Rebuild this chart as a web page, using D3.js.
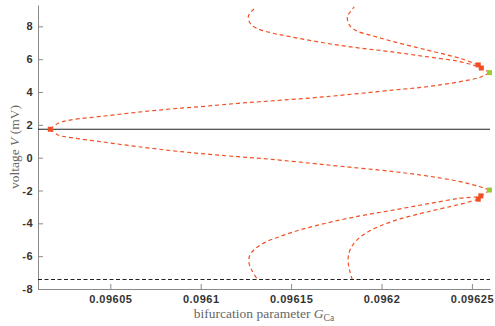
<!DOCTYPE html>
<html>
<head>
<meta charset="utf-8">
<script src="https://cdn.jsdelivr.net/npm/d3@7"></script>
<style>
  body { margin: 0; background: white; }
  .tick text { font-family: "Liberation Sans", Arial, sans-serif; font-weight: bold; font-size: 11px; letter-spacing: 0.5px; fill: #333; }
  .tick line, .domain { stroke: #8a8a8a; }
  .lbl { font-family: "Liberation Serif", "Times New Roman", serif; font-size: 13.5px; fill: #666; }
</style>
</head>
<body>
<div id="chart"></div>
<script>
var margin = { top: 5, right: 5, bottom: 37, left: 38 };
let width = 495 - margin.left - margin.right;
let height = 326 - margin.top - margin.bottom;

// tick labels
let xTicks = [0.09605, 0.0961, 0.09615, 0.0962, 0.09625];
let xTickLabels = ["0.09605", "0.0961", "0.09615", "0.0962", "0.09625"];
let yTicks = [-8, -6, -4, -2, 0, 2, 4, 6, 8];

// equilibria: [G, V]
let stableEq = [[0.09601, 1.73], [0.09626, 1.73]];
let unstableEq = [[0.09601, -7.42], [0.09626, -7.42]];

// periodic orbit branch from the Hopf point, max and min of V
let orbitMax = [
  [0.0960168, 1.73], [0.0960211, 2.10], [0.0960284, 2.30], [0.0960469, 2.54],
  [0.0960653, 2.77], [0.0960837, 2.97], [0.0961022, 3.13], [0.0961206, 3.31],
  [0.0961372, 3.44], [0.0961697, 3.72], [0.0962065, 4.12], [0.0962250, 4.32],
  [0.0962434, 4.63], [0.0962545, 4.90], [0.0962597, 5.18]
];
let orbitMin = [
  [0.0960168, 1.73], [0.0960211, 1.38], [0.0960284, 1.22], [0.0960469, 0.94],
  [0.0960653, 0.67], [0.0960837, 0.43], [0.0961022, 0.23], [0.0961206, 0.06],
  [0.0961372, -0.08], [0.0961697, -0.44], [0.0962065, -0.85], [0.0962250, -1.11],
  [0.0962434, -1.46], [0.0962545, -1.77], [0.0962597, -1.97]
];

// branches after the fold
let branchA = [
  [0.0962535, 5.65], [0.0962434, 6.05], [0.0962250, 6.56], [0.0962065, 7.07],
  [0.0961955, 7.41], [0.0961863, 7.72], [0.0961822, 8.08], [0.0961811, 8.59],
  [0.0961826, 8.87], [0.0961849, 9.18]
];
let branchB = [
  [0.0962597, 5.18], [0.0962552, 5.46], [0.0962434, 5.85], [0.0962250, 6.15],
  [0.0962047, 6.46], [0.0961863, 6.70], [0.0961678, 7.00], [0.0961494, 7.37],
  [0.0961401, 7.58], [0.0961310, 7.88], [0.0961273, 8.19], [0.0961263, 8.59],
  [0.0961282, 8.93], [0.0961310, 9.16]
];
let branchC = [
  [0.0962597, -1.97], [0.0962549, -2.33], [0.0962434, -2.47], [0.0962250, -2.82],
  [0.0962065, -3.19], [0.0961881, -3.55], [0.0961697, -3.98], [0.0961549, -4.40],
  [0.0961439, -4.80], [0.0961356, -5.16], [0.0961300, -5.56], [0.0961270, -5.99],
  [0.0961267, -6.41], [0.0961282, -6.84], [0.0961313, -7.41]
];
let branchD = [
  [0.0962535, -2.53], [0.0962434, -2.84], [0.0962250, -3.31], [0.0962102, -3.73],
  [0.0961992, -4.16], [0.0961914, -4.59], [0.0961859, -5.07], [0.0961828, -5.56],
  [0.0961816, -6.05], [0.0961817, -6.53], [0.0961826, -6.96], [0.0961837, -7.39]
];

// special points
let hopfPts = [[0.0960168, 1.73]];
let pdPts = [[0.0962535, 5.65], [0.0962552, 5.46], [0.0962549, -2.33], [0.0962535, -2.53]];
let foldPts = [[0.0962597, 5.18], [0.0962597, -1.97]];

var svg = d3
  .select("#chart")
  .append("svg")
  .attr("width", width + margin.left + margin.right)
  .attr("height", height + margin.top + margin.bottom)
  .style("background-color", "white");

let g = svg.append("g").attr("transform", "translate(" + margin.left + "," + margin.top + ")");

let x = d3.scaleLinear().domain([0.09601, 0.09626]).range([0, width]);
let y = d3.scaleLinear().domain([-8, 9.3]).range([height, 0]);

// axes
g.append("g")
  .attr("transform", "translate(0," + height + ")")
  .call(d3.axisBottom(x).tickValues(xTicks).tickSizeInner(-5).tickSizeOuter(0).tickPadding(6)
    .tickFormat((d, i) => xTickLabels[i]));

g.append("g")
  .call(d3.axisLeft(y).tickValues(yTicks).tickSizeInner(-5).tickSizeOuter(0).tickPadding(5)
    .tickFormat((d) => String(d)));

let line = d3.line().x((d) => x(d[0])).y((d) => y(d[1]));
let smooth = d3.line().x((d) => x(d[0])).y((d) => y(d[1])).curve(d3.curveCatmullRom.alpha(0.5));

g.append("path").datum(stableEq).attr("d", line)
  .attr("fill", "none").attr("stroke", "#222").attr("stroke-width", 1.2);
g.append("path").datum(unstableEq).attr("d", line)
  .attr("fill", "none").attr("stroke", "#222").attr("stroke-width", 1.1).attr("stroke-dasharray", "4,2.5");

// unstable periodic orbits
[orbitMax, orbitMin, branchA, branchB, branchC, branchD].forEach((b) => {
  g.append("path").datum(b).attr("d", smooth)
    .attr("fill", "none").attr("stroke", "#f25022").attr("stroke-width", 1.2)
    .attr("stroke-dasharray", "4,3");
});

// markers
function squares(pts, color) {
  g.selectAll(null).data(pts).join("rect")
    .attr("x", (d) => x(d[0]) - 2.5)
    .attr("y", (d) => y(d[1]) - 2.5)
    .attr("width", 5).attr("height", 5)
    .attr("fill", color);
}
squares(hopfPts, "#f04e23");
squares(pdPts, "#f04e23");
squares(foldPts, "#9acd32");

// axis labels
svg.append("text").attr("class", "lbl")
  .attr("transform", "translate(19," + (margin.top + height / 2) + ") rotate(-90)")
  .attr("text-anchor", "middle")
  .html('voltage <tspan font-style="italic">V</tspan> (mV)');

svg.append("text").attr("class", "lbl")
  .attr("x", margin.left + width / 2).attr("y", 318)
  .attr("text-anchor", "middle")
  .html('bifurcation parameter <tspan font-style="italic">G</tspan><tspan font-size="9.5px" dy="3">Ca</tspan>');
</script>
</body>
</html>
